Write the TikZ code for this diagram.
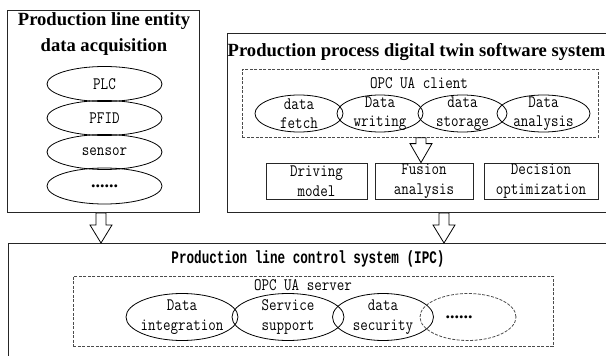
\documentclass[tikz,border=0pt]{standalone}
\usepackage{graphicx}
\usepackage{fontspec}
\newfontfamily\titlefont{Liberation Serif}
\newfontfamily\boldmono[FakeStretch=0.86]{Liberation Mono}
\usetikzlibrary{shapes.geometric,calc}
\newcommand\ts[1]{\scalebox{1}[1.2]{#1}}
\tikzset{
  box/.style={draw=black!85, line width=0.9pt, anchor=north west, inner sep=0pt},
  dbox/.style={draw=black!70, line width=0.8pt, dash pattern=on 3pt off 1.5pt, anchor=north west, inner sep=0pt},
  ell/.style={ellipse, draw=black, line width=0.8pt, inner sep=0pt},
  dell/.style={ell, draw=black!70, dash pattern=on 3pt off 1.5pt},
  lbl/.style={font=\fontsize{14.6}{19.5}\selectfont\ttfamily, align=center, inner sep=0pt},
  dots/.style={font=\titlefont\bfseries\fontsize{18}{20}\selectfont, inner sep=0pt},
  rbox/.style={draw=black!85, line width=0.8pt, inner sep=0pt, minimum height=36pt,
               font=\fontsize{14.6}{19.5}\selectfont\ttfamily, align=center},
  ttl/.style={font=\titlefont\bfseries\fontsize{18.6}{26}\selectfont, inner sep=0pt, align=center},
  ttlmono/.style={font=\fontsize{14.7}{18}\selectfont\boldmono\bfseries, inner sep=0pt},
  barrow/.style={draw=black, line width=0.8pt, fill=white, line join=miter},
}
\newcommand\blockarrow[4]{%
  \draw[barrow] let \p1=(#1.south -| #3), \p2=(#2.north -| #3) in
    (\x1-5pt,\y1) -- (\x1-5pt,\y2+#4) -- (\x1-11pt,\y2+#4) -- (\x2,\y2)
    -- (\x1+11pt,\y2+#4) -- (\x1+5pt,\y2+#4) -- (\x1+5pt,\y1) -- cycle;
}
\begin{document}
\begin{tikzpicture}[x=1pt,y=-1pt]
\clip (0,0) rectangle (606,356);
\fill[white] (0,0) rectangle (606,356);

% ---- left box: entity data acquisition
\node[box, minimum width=192pt, minimum height=202pt] (leftbox) at (7,10) {};
\node[ttl] (lefttitle) at (104,34) {Production line entity\\data acquisition};
\node[ell, minimum width=115pt, minimum height=35pt] (plc) at (104.5,84) {};
\node[lbl] (plct) at (plc) {\ts{PLC}};
\node[ell, minimum width=115pt, minimum height=35pt] (pfid) at (104.5,118) {};
\node[lbl] (pfidt) at (pfid) {\ts{PFID}};
\node[ell, minimum width=115pt, minimum height=35pt] (sensor) at (104.5,152) {};
\node[lbl] (sensort) at (sensor) {\ts{sensor}};
\node[ell, minimum width=115pt, minimum height=36pt] (more1) at (104.5,186) {};
\node[dots] (more1t) at (more1) {......};

% ---- right box: digital twin software system
\node[box, minimum width=400pt, minimum height=179pt] (rightbox) at (227,33) {};
\node[ttl] (righttitle) at (416.5,52) {Production process digital twin software system};
\node[dbox, minimum width=356pt, minimum height=68pt] (client) at (242,69) {};
\node[lbl] (clientt) at (419,83.5) {\ts{OPC UA client}};
\node[ell, minimum width=88pt, minimum height=37pt] (fetch) at (299,113.5) {};
\node[lbl] (fetcht) at (fetch) {\ts{data}\\\ts{fetch}};
\node[ell, minimum width=86pt, minimum height=37pt] (writing) at (380,113.5) {};
\node[lbl] (writingt) at (writing) {\ts{Data}\\\ts{writing}};
\node[ell, minimum width=89pt, minimum height=37pt] (storage) at (462.5,113.5) {};
\node[lbl] (storaget) at (storage) {\ts{data}\\\ts{storage}};
\node[ell, minimum width=93pt, minimum height=37pt] (analysis) at (543.5,113.5) {};
\node[lbl] (analysist) at (analysis) {\ts{Data}\\\ts{analysis}};

\node[rbox, minimum width=101pt] (driving) at (316.5,181) {\ts{Driving}\\\ts{model}};
\node[rbox, minimum width=98pt] (fusion) at (424,181) {\ts{Fusion}\\\ts{analysis}};
\node[rbox, minimum width=114pt] (decision) at (541,181) {\ts{Decision}\\\ts{optimization}};

% ---- bottom box: control system
\node[box, minimum width=620pt, minimum height=140pt] (bottombox) at (8,243) {};
\node[ttlmono] (bottomtitle) at (308,259) {\ts{Production line control system (IPC)}};
\node[dbox, minimum width=480pt, minimum height=70pt] (server) at (73,276) {};
\node[lbl] (servert) at (303,285.5) {\ts{OPC UA server}};
\node[ell, minimum width=112pt, minimum height=47pt] (integ) at (182,317) {};
\node[lbl] (integt) at (integ) {\ts{Data}\\\ts{integration}};
\node[ell, minimum width=112pt, minimum height=47pt] (service) at (288,317) {};
\node[lbl] (servicet) at (service) {\ts{Service}\\\ts{support}};
\node[ell, minimum width=101pt, minimum height=47pt] (security) at (383,317) {};
\node[lbl] (securityt) at (security) {\ts{data}\\\ts{security}};
\node[dell, minimum width=96pt, minimum height=47pt] (more2) at (468,317) {};
\node[dots] (more2t) at (459,317) {......};

% ---- block arrows
\coordinate (ax1) at (101,0);
\coordinate (ax2) at (444,0);
\coordinate (ax3) at (421,0);
\blockarrow{leftbox}{bottombox}{ax1}{18pt}
\blockarrow{rightbox}{bottombox}{ax2}{18pt}
\blockarrow{client}{fusion}{ax3}{19pt}
\end{tikzpicture}
\end{document}
